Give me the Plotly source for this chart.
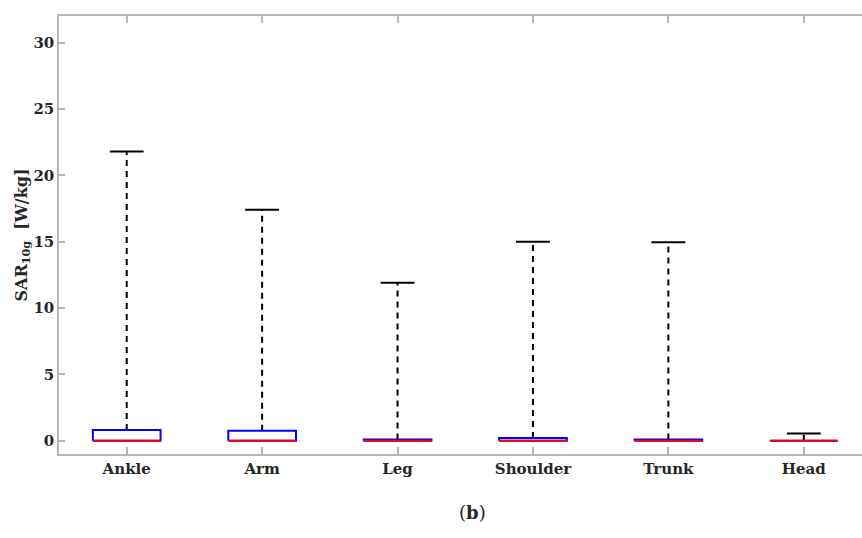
import plotly.graph_objects as go

categories = ["Ankle", "Arm", "Leg", "Shoulder", "Trunk", "Head"]
lower = [0.0, 0.0, 0.0, 0.0, 0.0, 0.0]
q1 = [0.0, 0.0, 0.0, 0.0, 0.0, 0.0]
median = [0.0, 0.0, 0.0, 0.0, 0.0, 0.0]
q3 = [0.8, 0.75, 0.1, 0.2, 0.1, 0.0]
upper = [21.8, 17.4, 11.9, 15.0, 14.95, 0.55]
yticks = [0, 5, 10, 15, 20, 25, 30]

FONT = "DejaVu Serif"
half_box = 0.25
half_cap = 0.125
pos = list(range(1, len(categories) + 1))

bx, by, mx, my, wx, wy, cx, cy = [], [], [], [], [], [], [], []
for p, lo, a, m, b, hi in zip(pos, lower, q1, median, q3, upper):
    bx += [p - half_box, p + half_box, p + half_box, p - half_box, p - half_box, None]
    by += [a, a, b, b, a, None]
    mx += [p - half_box, p + half_box, None]
    my += [m, m, None]
    wx += [p, p, None]
    wy += [b, hi, None]
    cx += [p - half_cap, p + half_cap, None]
    cy += [hi, hi, None]
    if lo < a:
        wx += [p, p, None]
        wy += [lo, a, None]
        cx += [p - half_cap, p + half_cap, None]
        cy += [lo, lo, None]

fig = go.Figure()
fig.add_trace(go.Scatter(x=wx, y=wy, mode="lines",
                         line=dict(color="black", width=2, dash="6px,5px"), hoverinfo="skip"))
fig.add_trace(go.Scatter(x=cx, y=cy, mode="lines",
                         line=dict(color="black", width=2), hoverinfo="skip"))
fig.add_trace(go.Scatter(x=bx, y=by, mode="lines", fill="toself", fillcolor="white",
                         line=dict(color="#0000ff", width=2), hoverinfo="skip"))
fig.add_trace(go.Scatter(x=mx, y=my, mode="lines",
                         line=dict(color="#ff0000", width=2), hoverinfo="skip"))

axis_col = "#b8b8b8"
txt_col = "#262626"
fig.update_layout(
    width=862, height=538,
    margin=dict(l=59, r=0, t=16, b=84),
    paper_bgcolor="white", plot_bgcolor="white",
    showlegend=False,
    font=dict(family=FONT, size=15, color=txt_col),
    xaxis=dict(
        range=[0.5, 6.43], tickvals=pos, ticktext=categories,
        showgrid=False, zeroline=False, showline=True, linecolor=axis_col, linewidth=1.5,
        mirror="ticks", ticks="inside", ticklen=7, tickcolor=axis_col, tickwidth=1.5,
        tickfont=dict(family=FONT, size=15, color=txt_col, weight="bold"),
    ),
    yaxis=dict(
        range=[-1, 32], tickvals=yticks, ticktext=[str(v) for v in yticks],
        showgrid=False, zeroline=False, showline=True, linecolor=axis_col, linewidth=1.5,
        ticks="inside", ticklen=6, tickcolor=axis_col, tickwidth=1.5,
        tickfont=dict(family=FONT, size=15, color=txt_col, weight="bold"),
        title=dict(text="<b>SAR<sub>10g</sub>  [W/kg]</b>", standoff=2,
                   font=dict(family=FONT, size=16, color=txt_col)),
    ),
)
fig.add_annotation(text="(<b>b</b>)", xref="x", yref="paper",
                   x=3.55, y=-0.1347, yanchor="middle", xanchor="center", showarrow=False,
                   font=dict(family=FONT, size=18, color=txt_col))
fig.write_html("out.html")
